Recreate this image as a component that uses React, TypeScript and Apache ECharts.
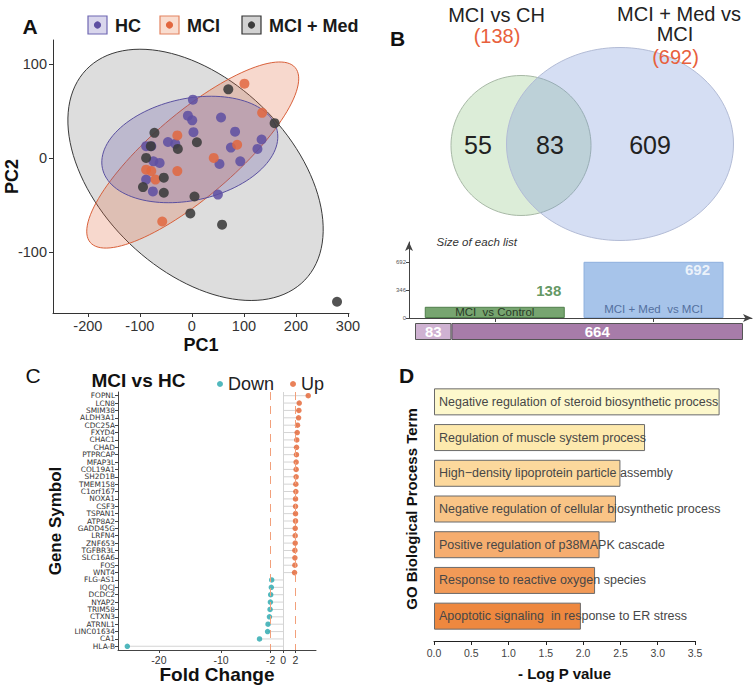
import React, { useEffect, useRef } from 'react';
import * as echarts from 'echarts';

const FONT = "'Liberation Sans', Arial, Helvetica, sans-serif";
const WIDE = "'DejaVu Sans', 'Liberation Sans', Arial, sans-serif";

// ---------- Panel A : PCA ----------
const pcaGroups = ['HC', 'MCI', 'MCI + Med'];
const pcaHC = [
  [1.9, 62], [-7.7, 45], [0.6, 40], [3, 27.4], [56, 43], [83, 28], [75, 11], [93, -3.6],
  [53, -6.4], [134, 19.6], [126, 9.6], [50, -39], [-46, 17], [-32, 15], [-88, 12.5],
  [-78, 12.5], [-74, -3.6], [-62, -5.3], [-88, -23], [-75, -35.6],
];
const pcaMCI = [
  [101, 79], [135, 48], [87, 14], [42, 0], [-28, 24], [-28, -14], [-88, -12.5],
  [-78, -14], [-70, -23], [-57, -67.6],
];
const pcaMed = [
  [70, 73], [159, 37], [279, -153], [-72, 26.7], [-27, 9.6], [9.6, 16.7], [-79, 12.5],
  [-88, 0], [-94, -31], [-54, -21], [-54, -37], [5, -41], [-3, -59], [58, -71],
];
// confidence ellipses: [centreX, centreY, axis1X, axis1Y, axis2X, axis2Y]
const ellipseMed = [7, -18, 210, -112, 127, 73];
const ellipseMCI = [1.6, 3.1, 197, 93, 52, -34];
const ellipseHC = [-4, 9, 168, 20, 20, -53];
const pcaXTicks = [-200, -100, 0, 100, 200, 300];
const pcaYTicks = [-100, 0, 100];

// ---------- Panel B : Venn ----------
const vennSetNames = ['MCI vs CH', 'MCI + Med vs', 'MCI'];
const vennSetTotals = [138, 692];
const vennRegionCounts = [55, 83, 609];
const listNames = ['MCI  vs Control', 'MCI + Med  vs MCI'];
const listSizes = [138, 692];
const listSizeTicks = [0, 346, 692];
const overlapCounts = [83, 664];

// ---------- Panel C : fold change ----------
const genes = [
  'FOPNL', 'LCN8', 'SMIM38', 'ALDH3A1', 'CDC25A', 'FXYD4', 'CHAC1', 'CHAD', 'PTPRCAP',
  'MFAP3L', 'COL19A1', 'SH2D1B', 'TMEM158', 'C1orf167', 'NOXA1', 'CSF3', 'TSPAN1',
  'ATP8A2', 'GADD45G', 'LRFN4', 'ZNF653', 'TGFBR3L', 'SLC16A6', 'FOS', 'WNT4',
  'FLG-AS1', 'IQCJ', 'DCDC2', 'NYAP2', 'TRIM58', 'CTXN3', 'ATRNL1', 'LINC01634', 'CA1', 'HLA-B',
];
const foldChange = [
  4.05, 2.6, 2.54, 2.49, 2.32, 2.27, 2.2, 2.16, 2.15, 2.1, 2.1, 2.1, 2.05, 2.05, 2.0,
  2.0, 2.0, 2.0, 1.95, 1.95, 1.95, 1.9, 1.9, 1.9, 1.84,
  -1.84, -1.9, -2.0, -2.05, -2.1, -2.2, -2.43, -2.5, -3.8, -25.1,
];
const fcTicks = [-20, -10, -2, 0, 2];
const fcThreshold = 2;

// ---------- Panel D : GO terms ----------
const goTerms = [
  'Negative regulation of steroid biosynthetic process',
  'Regulation of muscle system process',
  'High\u2212density lipoprotein particle assembly',
  'Negative regulation of cellular biosynthetic process',
  'Positive regulation of p38MAPK cascade',
  'Response to reactive oxygen species',
  'Apoptotic signaling  in response to ER stress',
];
const goLogP = [3.83, 2.83, 2.5, 2.44, 2.22, 2.16, 1.97];

const goColors = ['#fdf8cc', '#fde9ad', '#fcd89c', '#f9c486', '#f6ad6f', '#f29a57', '#ee883f'];
const ellipseStyles = [
  { fill: 'rgba(120,120,120,0.25)', stroke: '#3a3a3a' },
  { fill: 'rgba(226,103,63,0.26)', stroke: '#d9603a' },
  { fill: 'rgba(94,79,162,0.25)', stroke: '#5a50a0' },
];

function txt(x: number, y: number, text: string, size: number, extra: any = {}) {
  return {
    type: 'text',
    x,
    y,
    style: {
      text,
      fontSize: size,
      fontFamily: extra.family || FONT,
      fill: extra.fill || '#222',
      fontWeight: extra.weight || 'normal',
      fontStyle: extra.style || 'normal',
      align: extra.align || 'center',
      verticalAlign: 'middle',
      textAlign: extra.align || 'center',
      textVerticalAlign: 'middle',
    },
  };
}

function legendItem(x: number, label: string, boxFill: string, stroke: string, dot: string) {
  return [
    { type: 'rect', shape: { x, y: 16, width: 19, height: 18 }, style: { fill: boxFill, stroke, lineWidth: 1.2 } },
    { type: 'circle', shape: { cx: x + 9.5, cy: 25, r: 3.6 }, style: { fill: dot } },
    txt(x + 27, 25.5, label, 18, { weight: 'bold', align: 'left', fill: '#1a1a1a' }),
  ];
}

export default function App() {
  const ref = useRef<HTMLDivElement>(null);
  useEffect(() => {
    if (!ref.current) return;
    const chart = echarts.init(ref.current, null, { renderer: 'svg' });
    const total = overlapCounts.reduce((a, b) => a + b, 0);
    const axisText = { fontFamily: FONT };
    const option: any = {
      animation: false,
      backgroundColor: '#ffffff',
      textStyle: { fontFamily: FONT },
      legend: {
        data: ['Down', 'Up'],
        left: 212,
        top: 370,
        icon: 'circle',
        itemWidth: 6,
        itemHeight: 6,
        itemGap: 16,
        selectedMode: false,
        textStyle: { fontSize: 18, color: '#222', fontFamily: FONT },
      },
      grid: [
        { left: 53, top: 40, width: 296, height: 273, containLabel: false, outerBoundsMode: 'none' },
        { left: 409, top: 242, width: 343, height: 76, containLabel: false, outerBoundsMode: 'none' },
        { left: 415, top: 323, width: 328, height: 17, containLabel: false, outerBoundsMode: 'none' },
        { left: 118, top: 392, width: 198, height: 258, containLabel: false, outerBoundsMode: 'none' },
        { left: 434, top: 384, width: 261, height: 250, containLabel: false, outerBoundsMode: 'none' },
      ],
      xAxis: [
        {
          gridIndex: 0, type: 'value', min: -267, max: 302,
          axisLine: { show: true, onZero: false, lineStyle: { color: '#333' } },
          axisTick: { show: true, customValues: pcaXTicks, length: 4, lineStyle: { color: '#333' } },
          axisLabel: { customValues: pcaXTicks, fontSize: 14.5, color: '#333', margin: 5, ...axisText },
          splitLine: { show: false },
          name: 'PC1', nameLocation: 'middle', nameGap: 23, nameMoveOverlap: false,
          nameTextStyle: { fontSize: 18, fontWeight: 'bold', color: '#111', ...axisText },
        },
        {
          gridIndex: 1, type: 'value', min: 0.46, max: 2.62,
          axisLine: { show: true, onZero: false, symbol: ['none', 'arrow'], symbolSize: [6, 9], lineStyle: { color: '#444' } },
          axisTick: { show: true, customValues: [1, 2], length: 4, lineStyle: { color: '#444' } },
          axisLabel: { show: false },
          splitLine: { show: false },
        },
        { gridIndex: 2, type: 'value', min: 0, max: total, show: false },
        {
          gridIndex: 3, type: 'value', min: -26.6, max: 5.3,
          axisLine: { show: true, onZero: false, lineStyle: { color: '#444' } },
          axisTick: { show: true, customValues: fcTicks, length: 3, lineStyle: { color: '#444' } },
          axisLabel: { customValues: fcTicks, fontSize: 10.5, color: '#333', margin: 4, ...axisText },
          splitLine: { show: false },
          name: 'Fold Change', nameLocation: 'middle', nameGap: 15, nameMoveOverlap: false,
          nameTextStyle: { fontSize: 19, fontWeight: 'bold', color: '#111', ...axisText },
        },
        {
          gridIndex: 4, type: 'value', min: 0, max: 3.5, interval: 0.5, offset: 7,
          axisLine: { show: true, onZero: false, lineStyle: { color: '#222' } },
          axisTick: { show: true, length: 4, lineStyle: { color: '#222' } },
          axisLabel: { fontSize: 10.5, color: '#444', margin: 6, formatter: (v: number) => v.toFixed(1), ...axisText },
          splitLine: { show: false },
          name: '- Log P value', nameLocation: 'middle', nameGap: 25, nameMoveOverlap: false,
          nameTextStyle: { fontSize: 15, fontWeight: 'bold', color: '#111', ...axisText },
        },
      ],
      yAxis: [
        {
          gridIndex: 0, type: 'value', min: -165, max: 125.5,
          axisLine: { show: true, onZero: false, lineStyle: { color: '#333' } },
          axisTick: { show: true, customValues: pcaYTicks, length: 4, lineStyle: { color: '#333' } },
          axisLabel: { customValues: pcaYTicks, fontSize: 14.5, color: '#333', margin: 6, ...axisText },
          splitLine: { show: false },
          name: 'PC2', nameLocation: 'middle', nameGap: 32, nameMoveOverlap: false,
          nameTextStyle: { fontSize: 18, fontWeight: 'bold', color: '#111', ...axisText },
        },
        {
          gridIndex: 1, type: 'value', min: 0, max: 936,
          axisLine: { show: true, onZero: false, symbol: ['none', 'arrow'], symbolSize: [6, 9], lineStyle: { color: '#444' } },
          axisTick: { show: true, customValues: listSizeTicks, length: 3, lineStyle: { color: '#444' } },
          axisLabel: { customValues: listSizeTicks, fontSize: 6, color: '#555', margin: 3, ...axisText },
          splitLine: { show: false },
        },
        { gridIndex: 2, type: 'category', data: ['overlap'], show: false },
        {
          gridIndex: 3, type: 'category', data: genes, inverse: true,
          axisLine: { show: true, onZero: false, lineStyle: { color: '#444' } },
          axisTick: { show: true, alignWithLabel: true, length: 3, lineStyle: { color: '#444' } },
          axisLabel: { fontSize: 7.4, lineHeight: 7, color: '#333', margin: 3, interval: 0, fontFamily: WIDE },
          name: 'Gene Symbol', nameLocation: 'middle', nameGap: 54, nameMoveOverlap: false,
          nameTextStyle: { fontSize: 17, fontWeight: 'bold', color: '#111', ...axisText },
        },
        {
          gridIndex: 4, type: 'category', data: goTerms, inverse: true,
          axisLine: { show: false }, axisTick: { show: false }, axisLabel: { show: false },
          name: 'GO Biological Process Term', nameLocation: 'middle', nameGap: 15, nameMoveOverlap: false,
          nameTextStyle: { fontSize: 15, fontWeight: 'bold', color: '#111', ...axisText },
        },
      ],
      series: [
        {
          type: 'custom', name: 'ellipses', xAxisIndex: 0, yAxisIndex: 0, z: 1, silent: true,
          data: [ellipseMed, ellipseMCI, ellipseHC],
          renderItem: (params: any, api: any) => {
            const cx = api.value(0), cy = api.value(1);
            const ux = api.value(2), uy = api.value(3), vx = api.value(4), vy = api.value(5);
            const pts: number[][] = [];
            const n = 120;
            for (let k = 0; k < n; k++) {
              const t = (2 * Math.PI * k) / n;
              pts.push(api.coord([cx + ux * Math.cos(t) + vx * Math.sin(t), cy + uy * Math.cos(t) + vy * Math.sin(t)]));
            }
            const s = ellipseStyles[params.dataIndex];
            return { type: 'polygon', shape: { points: pts }, style: { fill: s.fill, stroke: s.stroke, lineWidth: 1 } };
          },
        },
        {
          type: 'scatter', name: pcaGroups[0], xAxisIndex: 0, yAxisIndex: 0, z: 3, data: pcaHC,
          symbolSize: 10, itemStyle: { color: '#5e4fa2', opacity: 0.85 },
        },
        {
          type: 'scatter', name: pcaGroups[1], xAxisIndex: 0, yAxisIndex: 0, z: 3, data: pcaMCI,
          symbolSize: 10, itemStyle: { color: '#e2673f', opacity: 0.85 },
        },
        {
          type: 'scatter', name: pcaGroups[2], xAxisIndex: 0, yAxisIndex: 0, z: 3, data: pcaMed,
          symbolSize: 10, itemStyle: { color: '#3b3b3b', opacity: 0.88 },
        },
        // Panel B list sizes
        {
          type: 'bar', name: 'listSizes', xAxisIndex: 1, yAxisIndex: 1, barWidth: 140,
          data: listSizes.map((v, i) => ({
            value: [i + 1, v],
            itemStyle: i === 0
              ? { color: '#77a570', borderColor: '#4f7f4a', borderWidth: 1 }
              : { color: '#a7c4ea', borderColor: '#8eb0de', borderWidth: 1 },
            label: {
              show: true,
              position: 'insideBottom',
              distance: i === 0 ? 0 : 3,
              formatter: listNames[i],
              fontSize: 11.5,
              color: i === 0 ? '#2a3a28' : '#5470a0',
              fontFamily: FONT,
            },
          })),
        },
        {
          type: 'scatter', name: 'listLabels', xAxisIndex: 1, yAxisIndex: 1, symbolSize: 1,
          itemStyle: { color: 'transparent' }, silent: true,
          data: listSizes.map((v, i) => ({
            value: [i + 1, v],
            label: {
              show: true,
              position: 'inside',
              offset: i === 0 ? [54, -16] : [44, 8],
              formatter: String(v),
              fontSize: 15,
              fontWeight: 'bold',
              color: i === 0 ? '#3a7d3a' : '#ffffff',
              fontFamily: FONT,
            },
          })),
        },
        ...overlapCounts.map((v, i) => ({
          type: 'bar', name: 'overlap' + i, xAxisIndex: 2, yAxisIndex: 2, stack: 'ov', barWidth: 17,
          data: [v],
          itemStyle: { color: i === 0 ? '#cfb2d2' : '#a77ca9', borderColor: '#555', borderWidth: 1 },
          label: { show: true, position: 'inside', fontSize: 15, fontWeight: 'bold', color: '#fff', fontFamily: FONT },
        })),
        // Panel C
        {
          type: 'bar', name: 'segments', xAxisIndex: 3, yAxisIndex: 3, barWidth: 1, silent: true,
          data: foldChange, itemStyle: { color: '#d4d4d4' },
          markLine: {
            silent: true, symbol: 'none', label: { show: false },
            data: [
              { xAxis: 0, lineStyle: { color: '#d4d4d4', type: 'solid', width: 1 } },
              { xAxis: -fcThreshold, lineStyle: { color: '#f2a07b', type: [8, 6], width: 1 } },
              { xAxis: fcThreshold, lineStyle: { color: '#f2a07b', type: [8, 6], width: 1 } },
            ],
          },
        },
        {
          type: 'scatter', name: 'Down', xAxisIndex: 3, yAxisIndex: 3, symbolSize: 5.5, z: 4,
          itemStyle: { color: '#26a6ad' },
          data: foldChange.map((v, i) => [v, genes[i]]).filter((d: any) => d[0] < 0),
        },
        {
          type: 'scatter', name: 'Up', xAxisIndex: 3, yAxisIndex: 3, symbolSize: 5.5, z: 4,
          itemStyle: { color: '#e4622f' },
          data: foldChange.map((v, i) => [v, genes[i]]).filter((d: any) => d[0] > 0),
        },
        // Panel D
        {
          type: 'bar', name: 'GO', xAxisIndex: 4, yAxisIndex: 4, barWidth: 27, clip: false,
          data: goLogP.map((v, i) => ({ value: v, itemStyle: { color: goColors[i] } })),
          itemStyle: { borderColor: '#6a6a6a', borderWidth: 1 },
          label: {
            show: true, position: 'insideLeft', distance: 5, formatter: (p: any) => p.name,
            fontSize: 12.5, color: '#474747', fontFamily: FONT,
          },
        },
      ],
      graphic: [
        txt(30, 26, 'A', 21, { weight: 'bold', fill: '#111' }),
        ...legendItem(88, pcaGroups[0], '#d9d6ec', '#6f67b2', '#5e4fa2'),
        ...legendItem(160, pcaGroups[1], '#f9ddd0', '#e38460', '#e2673f'),
        ...legendItem(242, pcaGroups[2], '#d2d2d2', '#333333', '#3b3b3b'),
        // Panel B venn
        txt(397.5, 38, 'B', 21, { weight: 'bold', fill: '#111' }),
        { type: 'circle', shape: { cx: 521, cy: 145.5, r: 70 }, style: { fill: '#dcedd8', stroke: '#a8b9a6', lineWidth: 1 } },
        { type: 'ellipse', shape: { cx: 620, cy: 144, rx: 113.5, ry: 96.5 }, style: { fill: 'rgba(121,147,217,0.31)', stroke: '#b3bcd6', lineWidth: 1 } },
        txt(496.5, 14.5, vennSetNames[0], 20, { fill: '#222' }),
        txt(497, 35.5, '(' + vennSetTotals[0] + ')', 20, { fill: '#e8603c' }),
        txt(679, 13.5, vennSetNames[1], 20, { fill: '#222' }),
        txt(675, 34, vennSetNames[2], 20, { fill: '#222' }),
        txt(675.5, 57, '(' + vennSetTotals[1] + ')', 20, { fill: '#e8603c' }),
        txt(478, 145, String(vennRegionCounts[0]), 25, { fill: '#222' }),
        txt(550, 145, String(vennRegionCounts[1]), 25, { fill: '#222' }),
        txt(650, 145, String(vennRegionCounts[2]), 25, { fill: '#222' }),
        txt(436.5, 242, 'Size of each list', 11.5, { style: 'italic', align: 'left', fill: '#333' }),
        // Panel C / D titles
        txt(33, 375, 'C', 21, { fill: '#111' }),
        txt(138.5, 380, 'MCI vs HC', 19, { weight: 'bold', fill: '#111' }),
        txt(406.5, 375, 'D', 21, { weight: 'bold', fill: '#111' }),
      ],
    };
    chart.setOption(option);
    return () => chart.dispose();
  }, []);
  return (
    <div
      ref={ref}
      style={{ position: 'absolute', left: 0, top: 0, width: 756, height: 687, background: '#fff' }}
    />
  );
}
